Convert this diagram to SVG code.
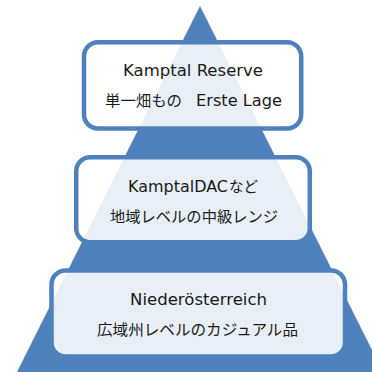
<svg xmlns="http://www.w3.org/2000/svg" width="372" height="372" viewBox="0 0 372 372">
<style>
.box{fill:#ffffff;fill-opacity:0.87;stroke:#4f81bd;stroke-width:4.5}
.l{font-family:"DejaVu Sans","Noto Sans CJK JP",sans-serif;font-size:15px;fill:#1a1a1a}
.j{font-family:"Noto Sans CJK JP",sans-serif;font-size:15.3px;fill:#1a1a1a}
</style>
<rect width="372" height="372" fill="#ffffff"/>
<polygon id="pyramid" points="200,6 383,372 17,372" fill="#4f81bd"/>
<g id="top">
<rect class="box" x="84" y="42.2" width="217.2" height="86.3" rx="14"/>
<text class="l" x="123" y="76" textLength="140" lengthAdjust="spacingAndGlyphs">Kamptal Reserve</text>
<text class="j" x="105" y="106" textLength="77" lengthAdjust="spacingAndGlyphs">単一畑もの</text>
<text class="l" x="196" y="106" textLength="86" lengthAdjust="spacingAndGlyphs">Erste Lage</text>
</g>
<g id="middle">
<rect class="box" x="76.2" y="157.2" width="233.6" height="85" rx="14"/>
<text class="l" x="128" y="191.7" textLength="100" lengthAdjust="spacingAndGlyphs">KamptalDAC</text>
<text class="j" x="229" y="191.7" textLength="29" lengthAdjust="spacingAndGlyphs">など</text>
<text class="j" x="110" y="221.7" textLength="168" lengthAdjust="spacingAndGlyphs">地域レベルの中級レンジ</text>
</g>
<g id="bottom">
<rect class="box" x="51.5" y="270.5" width="293.5" height="86" rx="14"/>
<text class="l" x="130" y="305" textLength="137" lengthAdjust="spacingAndGlyphs">Niederösterreich</text>
<text class="j" x="97" y="335" textLength="201" lengthAdjust="spacingAndGlyphs">広域州レベルのカジュアル品</text>
</g>
<g id="connectors"/>
</svg>
